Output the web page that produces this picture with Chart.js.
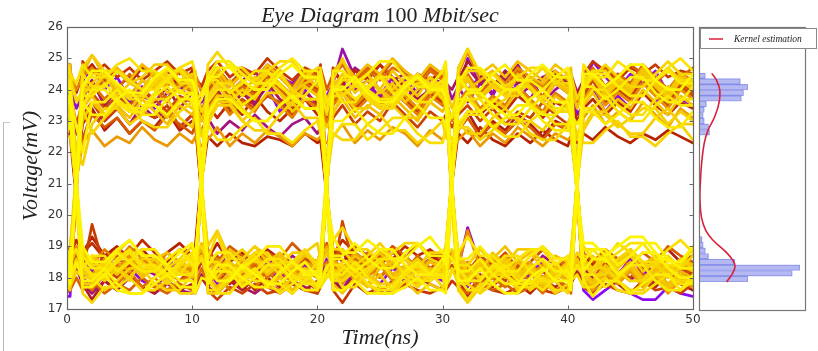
<!DOCTYPE html>
<html><head><meta charset="utf-8">
<script src="https://cdn.jsdelivr.net/npm/chart.js@4.4.0/dist/chart.umd.min.js"></script>
<style>
html,body{margin:0;padding:0;background:#fff;}
#wrap{position:relative;width:818px;height:351px;overflow:hidden;background:#fff;}
#main{position:absolute;left:0;top:0;}
#hist{position:absolute;left:694px;top:0;}
#edge{position:absolute;left:3px;top:122px;width:6px;height:240px;border-left:1px solid #b8b8b8;border-top:1px solid #c8c8c8;}
</style></head><body>
<div id="wrap"><div id="edge"></div><canvas id="main" width="818" height="351"></canvas><canvas id="hist" width="124" height="351"></canvas></div>
<script>
const times = [0,0.25,0.75,1.25,2,3,4,5,6,7,8,9,
10,10.25,10.75,11.25,12,13,14,15,16,17,18,19,
20,20.25,20.75,21.25,22,23,24,25,26,27,28,29,
30,30.25,30.75,31.25,32,33,34,35,36,37,38,39,
40,40.25,40.75,41.25,42,43,44,45,46,47,48,49,50];

const trace01=[17.4,17.4,21.0,
24.1,24.8,24.0,24.4,23.7,24.3,24.1,24.6,23.9,24.2,24.0,23.6,
23.9,24.4,23.5,23.9,23.6,24.1,23.3,23.8,24.0,23.5,23.7,20.8,
18.0,17.6,18.3,18.0,18.5,18.1,17.9,18.3,18.6,18.2,18.0,21.1,
23.8,25.0,24.2,23.9,24.6,24.0,24.4,23.7,24.2,24.5,24.1,20.7,
17.6,17.3,17.6,17.9,17.5,17.3,17.3,17.7,17.5,17.4];
const trace02=[24.8,24.8,20.6,
18.1,17.5,18.2,17.8,18.3,17.9,17.7,18.1,18.4,18.0,17.8,21.2,
24.3,24.6,24.1,24.5,24.2,24.7,24.4,24.2,24.6,24.3,24.1,23.8,
24.2,23.8,24.3,23.7,24.5,24.0,23.6,24.3,24.1,23.8,24.2,20.9,
18.4,17.9,18.6,18.2,17.9,18.4,18.1,18.5,18.2,18.0,18.3,21.0,
24.0,24.9,24.4,24.0,24.5,24.2,24.6,23.9,24.3,24.1];
const trace03=[24.4,24.1,23.4,
23.8,24.3,23.5,24.0,23.6,24.1,23.4,23.9,24.1,23.6,23.8,20.9,
18.3,17.8,18.5,18.1,18.6,18.2,18.0,18.4,18.7,18.3,18.1,18.6,
18.2,18.0,18.5,18.1,17.8,18.3,18.0,18.4,18.1,17.9,18.2,21.3,
24.5,24.0,24.4,23.8,24.6,24.1,23.7,24.4,24.2,23.9,24.3,23.2,
23.5,24.0,23.3,23.8,23.4,23.9,23.6,24.1,23.7,23.5];
const trace04=[18.0,18.3,18.8,
18.5,18.2,18.7,18.3,18.0,18.5,18.2,18.6,18.3,18.1,18.4,21.0,
24.0,24.5,23.9,24.3,24.6,24.0,24.2,23.8,24.4,24.1,24.3,23.5,
23.9,24.3,23.6,24.1,23.8,24.4,23.7,24.0,24.2,23.7,23.9,20.7,
18.2,17.7,18.4,18.0,18.3,17.9,18.1,18.5,18.2,17.9,18.1,18.5,
18.3,18.0,18.4,18.1,18.6,18.2,18.0,18.3,18.5,18.2];
const trace05=[17.9,18.2,21.2,
24.3,24.0,24.5,24.1,24.4,23.9,24.2,24.6,24.0,24.3,24.1,20.8,
18.0,18.4,17.9,18.3,18.1,18.5,18.0,18.2,18.4,18.1,17.9,21.0,
24.2,25.3,24.4,24.0,24.5,24.1,24.3,23.9,24.4,24.2,24.0,20.6,
18.3,19.6,18.4,18.1,18.5,18.2,18.0,18.4,18.2,18.5,18.3,21.1,
24.1,24.5,24.0,24.3,23.8,24.2,24.4,24.0,24.3,24.1];
const trace06=[24.0,23.7,20.9,
18.4,18.1,18.6,18.2,18.7,18.3,18.1,18.5,18.2,18.0,18.3,18.9,
18.6,18.2,18.8,18.4,18.1,18.6,18.3,18.7,18.4,18.2,18.5,21.1,
23.9,24.4,24.0,24.3,23.7,24.2,24.0,24.5,23.8,24.1,24.3,23.7,
24.1,23.6,24.2,23.9,24.4,23.8,24.1,23.6,24.0,24.3,24.0,20.8,
18.2,17.9,18.3,18.0,18.4,18.1,17.8,18.2,18.0,18.3];
const trace07=[23.5,23.8,22.6,
22.4,23.3,23.0,23.4,22.9,23.5,23.1,23.3,22.8,23.2,23.0,22.7,
23.1,22.6,23.0,22.7,23.2,22.8,22.5,22.9,23.1,22.6,22.8,20.9,
18.5,18.0,18.7,18.3,18.9,18.4,18.2,18.6,18.3,18.1,18.4,18.8,
18.5,18.1,18.6,18.3,18.0,18.4,18.2,18.7,18.4,18.1,18.3,18.6,
18.3,18.0,18.5,18.2,17.9,18.3,18.1,18.4,18.2,18.0];
const trace08=[17.6,17.9,18.3,
17.8,17.5,17.9,17.6,18.0,17.7,17.5,17.8,17.6,17.5,17.7,18.1,
17.9,17.6,18.0,17.7,17.5,17.8,17.6,17.9,17.7,17.5,17.8,21.2,
24.6,24.2,24.7,24.4,24.8,24.3,24.5,24.1,24.6,24.4,24.2,24.0,
24.4,24.7,24.2,24.5,24.3,24.8,24.1,24.4,24.6,24.2,24.5,23.9,
24.3,24.6,24.1,24.5,24.2,24.7,24.3,24.0,24.4,24.2];
const trace09=[18.4,18.1,20.8,
23.7,24.3,23.5,24.0,23.3,23.8,23.6,24.1,23.4,23.9,23.7,23.2,
23.6,24.0,23.4,23.9,23.5,24.2,23.7,23.4,23.9,23.6,23.8,23.4,
23.8,24.2,23.6,24.0,23.5,23.9,24.1,23.7,24.0,23.5,23.8,21.0,
18.0,17.4,18.1,17.8,18.3,17.9,17.7,18.2,17.9,17.6,18.0,18.4,
18.1,17.8,18.2,17.9,18.4,18.0,17.8,18.1,17.9,18.2];
const trace10=[24.6,24.3,21.0,
17.8,17.3,17.9,17.6,18.1,17.7,17.5,17.9,17.6,17.8,17.5,18.0,
17.7,17.5,17.9,17.6,18.0,17.7,17.5,17.8,17.6,17.9,17.7,18.2,
17.9,17.6,18.1,17.8,17.5,17.9,17.7,18.0,17.8,17.6,17.9,20.9,
24.3,24.9,24.5,24.1,24.6,24.2,24.4,24.0,24.5,24.3,24.1,23.8,
24.2,24.5,24.0,24.4,24.1,24.6,24.2,23.9,24.3,24.1];
const trace11=[18.6,18.3,21.3,
22.9,23.4,22.7,23.1,22.6,23.0,22.8,23.3,22.7,23.0,22.9,20.6,
18.6,19.1,18.5,18.8,18.4,18.9,18.6,18.3,18.7,18.5,18.8,18.9,
18.4,18.8,18.3,18.7,18.5,19.0,18.6,18.2,18.5,18.8,18.5,21.2,
22.8,23.3,22.6,23.0,22.7,23.2,22.9,22.5,23.0,22.8,23.1,20.7,
18.7,18.4,18.9,18.5,18.8,18.3,18.6,18.9,18.5,18.7];
const trace12=[22.9,22.5,20.5,
18.8,19.3,18.7,19.0,18.6,18.9,18.5,18.8,19.1,18.7,18.9,21.1,
22.5,22.2,22.6,22.3,22.2,22.5,22.4,22.2,22.6,22.3,22.4,20.6,
18.9,18.5,19.0,18.7,18.4,18.8,18.6,19.1,18.7,18.5,18.8,21.0,
22.6,22.3,22.8,22.4,22.2,22.6,22.3,22.7,22.4,22.2,22.5,22.3,
22.6,22.4,22.8,22.5,22.3,22.6,22.4,22.7,22.5,22.3];
const trace13=[24.8,24.5,23.9,
24.5,24.8,24.3,24.6,24.2,24.7,24.4,24.5,24.1,24.6,24.4,20.8,
17.7,18.2,17.8,18.1,17.6,18.0,17.7,18.3,17.9,17.6,17.8,21.3,
24.7,24.2,24.6,24.3,24.8,24.4,24.1,24.5,24.3,24.6,24.4,20.5,
17.9,17.5,18.0,17.7,18.2,17.8,17.5,17.9,17.7,18.0,17.8,18.2,
17.9,17.6,18.0,17.8,17.5,17.9,17.7,18.1,17.8,17.6];
const trace14=[19.0,18.7,19.2,
18.8,19.1,18.6,18.9,18.7,19.2,18.8,18.5,18.9,18.7,19.0,21.4,
23.5,23.1,23.6,23.2,23.8,23.3,23.0,23.4,23.7,23.2,23.5,20.7,
18.7,19.2,18.8,18.5,18.9,18.6,19.0,18.7,18.9,18.6,18.8,21.1,
23.4,23.9,23.2,23.6,23.3,23.8,23.5,23.1,23.6,23.4,23.7,23.0,
23.4,23.7,23.2,23.6,23.3,23.9,23.5,23.2,23.6,23.4];
const trace15=[18.1,17.7,20.7,
24.9,24.5,24.8,24.4,24.7,24.3,24.6,24.9,24.5,24.7,24.4,24.1,
24.6,24.9,24.4,24.7,24.5,25.0,24.6,24.3,24.7,24.5,24.8,21.0,
17.6,17.2,17.8,17.5,17.7,17.5,17.8,17.6,17.5,17.7,17.6,17.9,
17.7,17.5,17.8,17.6,17.5,17.7,17.9,17.6,17.5,17.7,17.6,21.2,
24.5,24.9,24.6,24.3,24.7,24.5,24.8,24.4,24.6,24.5];
const trace16=[23.3,23.7,21.1,
18.2,19.7,18.3,18.0,18.4,18.1,18.5,18.2,17.9,18.3,18.1,18.5,
18.1,18.4,18.0,18.3,17.9,18.2,18.5,18.1,18.3,18.0,18.2,20.8,
23.6,24.1,23.4,23.8,23.5,24.0,23.7,23.3,23.9,23.6,23.8,20.4,
18.3,18.0,18.5,18.2,18.6,18.1,18.4,18.0,18.3,18.5,18.2,18.7,
18.4,18.1,18.5,18.2,18.0,18.4,18.2,18.6,18.3,18.1];
const trace17=[17.5,17.8,21.0,
23.2,23.6,23.0,23.4,22.9,23.3,23.1,23.5,22.8,23.2,23.0,20.9,
17.6,17.3,17.7,17.5,17.8,17.5,17.6,17.9,17.6,17.5,17.7,21.2,
23.1,23.5,22.9,23.3,23.0,23.6,23.2,22.8,23.3,23.0,23.2,22.8,
23.2,23.5,23.0,23.4,22.9,23.3,23.1,23.6,23.2,22.9,23.1,20.6,
17.7,17.5,17.8,17.6,17.5,17.9,17.6,17.7,17.5,17.8];
const trace18=[24.2,24.5,20.8,
18.5,18.0,18.4,18.7,18.2,18.6,18.3,18.0,18.4,18.2,18.5,21.0,
24.0,24.4,23.8,24.2,23.9,24.5,24.1,23.7,24.3,24.0,24.2,20.9,
18.1,19.8,18.2,18.5,18.0,18.4,18.1,18.6,18.3,18.0,18.2,18.4,
18.0,18.3,17.8,18.2,17.9,18.4,18.1,17.8,18.2,18.0,18.3,21.0,
23.8,24.3,23.6,24.0,23.7,24.2,23.9,23.5,24.1,23.8];
const trace19=[24.1,23.9,22.9,
23.6,23.9,23.4,23.8,23.5,24.0,23.7,23.3,23.8,23.6,23.9,23.0,
23.5,23.9,23.3,23.7,23.4,23.8,23.6,23.2,23.7,23.5,23.8,23.1,
23.7,24.0,23.5,23.9,23.6,24.1,23.8,23.4,23.9,23.7,24.0,20.8,
18.6,18.2,18.7,18.4,18.8,18.3,18.5,18.9,18.4,18.6,18.3,21.1,
23.9,24.3,23.7,24.1,23.8,24.4,24.0,23.6,24.2,23.9];
const trace20=[18.5,18.2,18.7,
18.3,18.6,18.1,18.4,18.2,18.7,18.3,18.0,18.5,18.2,18.4,18.8,
18.4,18.7,18.2,18.5,18.3,18.8,18.4,18.1,18.6,18.3,18.5,19.0,
18.5,18.2,18.6,18.3,18.7,18.4,18.1,18.5,18.3,18.6,18.4,21.0,
24.0,24.3,23.8,24.2,23.9,24.4,24.1,23.7,24.2,24.0,24.3,20.9,
18.1,17.8,18.3,18.0,18.4,18.1,17.9,18.2,18.0,18.3];
const trace21=[23.1,22.8,22.0,
22.4,23.2,22.8,23.1,22.6,23.0,22.7,23.2,22.9,22.6,22.9,20.7,
18.9,18.5,19.0,18.7,18.4,18.8,18.6,19.1,18.7,18.5,18.8,19.1,
18.6,18.9,18.4,18.8,18.5,19.0,18.7,18.3,18.8,18.6,18.9,21.3,
22.7,23.1,22.5,22.9,22.6,23.0,22.8,22.4,22.9,22.7,23.0,20.8,
18.8,18.5,18.9,18.6,18.4,18.8,18.5,19.0,18.7,18.5];
const trace22=[17.8,17.6,18.0,
17.6,17.9,17.5,17.8,17.6,18.0,17.7,17.5,17.8,17.6,17.9,21.1,
24.4,24.7,24.2,24.6,24.3,24.8,24.5,24.1,24.6,24.4,24.7,24.0,
24.5,24.8,24.3,24.7,24.4,24.9,24.5,24.2,24.7,24.4,24.6,20.9,
17.7,17.5,17.9,17.6,17.8,17.5,17.7,18.0,17.6,17.8,17.5,21.0,
24.6,24.3,24.7,24.4,24.8,24.5,24.2,24.6,24.4,24.7];
const trace23=[18.3,18.6,21.2,
24.2,23.8,24.4,24.0,24.5,23.9,24.2,23.7,24.3,24.0,24.2,23.3,
23.9,24.3,23.7,24.1,23.8,24.4,24.0,23.6,24.2,23.9,24.1,20.7,
18.4,18.1,18.6,18.3,18.0,18.5,18.2,18.7,18.3,18.1,18.4,20.9,
24.1,24.5,23.9,24.3,24.0,24.6,24.2,23.8,24.4,24.1,24.3,23.6,
24.0,24.4,23.8,24.2,23.9,24.5,24.1,23.7,24.3,24.0];
const trace24=[24.7,24.4,20.6,
17.9,17.6,18.1,17.8,18.2,17.7,18.0,17.6,17.9,18.1,17.8,18.3,
17.8,18.1,17.6,17.9,17.7,18.2,17.8,17.5,18.0,17.7,17.9,21.0,
24.4,24.8,24.2,24.6,24.3,24.7,24.5,24.1,24.6,24.3,24.5,20.8,
17.8,18.1,17.6,18.0,17.7,18.2,17.9,17.5,18.0,17.7,17.9,21.2,
24.3,24.7,24.1,24.5,24.2,24.8,24.4,24.0,24.5,24.3];
const trace25=[18.0,17.7,20.9,
23.9,24.2,23.7,24.1,23.8,24.3,24.0,23.6,24.2,23.9,24.1,21.0,
18.2,17.9,18.4,18.1,18.5,18.0,18.3,17.8,18.2,18.0,18.3,18.5,
18.1,18.4,17.9,18.3,18.0,18.5,18.2,17.8,18.3,18.1,18.3,18.6,
18.2,18.5,18.0,18.4,18.1,18.6,18.3,17.9,18.4,18.2,18.4,21.1,
24.0,24.4,23.8,24.2,23.9,24.5,24.1,23.7,24.3,24.0];
const trace26=[23.6,23.3,20.7,
18.7,18.4,18.9,18.5,19.0,18.6,18.3,18.8,18.5,18.7,18.4,21.2,
23.4,23.8,23.2,23.6,23.3,23.9,23.5,23.1,23.7,23.4,23.6,22.9,
23.5,23.9,23.3,23.7,23.4,24.0,23.6,23.2,23.8,23.5,23.7,23.0,
23.6,24.0,23.4,23.8,23.5,24.1,23.7,23.3,23.9,23.6,23.8,20.8,
18.6,18.3,18.8,18.5,18.9,18.4,18.7,18.2,18.6,18.4];
const trace27=[24.3,24.6,24.0,
24.4,24.7,24.2,24.6,24.3,24.8,24.4,24.1,24.6,24.3,24.5,23.9,
24.3,24.6,24.1,24.5,24.2,24.7,24.4,24.0,24.5,24.3,24.5,20.8,
18.2,17.8,18.3,18.0,18.4,17.9,18.2,17.7,18.1,18.3,18.0,21.0,
24.5,25.2,24.3,24.6,24.2,24.7,24.4,24.1,24.6,24.3,24.5,20.9,
18.0,17.7,18.2,17.9,18.3,17.8,18.1,17.6,18.0,17.8];
const trace28=[18.2,18.5,19.0,
18.4,18.1,18.6,18.3,18.7,18.2,18.5,18.0,18.4,18.2,18.5,18.9,
18.3,18.6,18.1,18.5,18.2,18.7,18.4,18.0,18.5,18.3,18.4,21.1,
23.7,24.1,23.5,23.9,23.6,24.2,23.8,23.4,24.0,23.7,23.9,20.6,
18.4,19.5,18.3,18.6,18.2,18.5,18.1,18.4,18.2,18.5,18.3,21.2,
23.7,24.1,23.5,23.9,23.6,24.2,23.8,23.4,24.0,23.7];
const trace29=[17.7,18.0,21.1,
22.3,22.7,22.2,22.5,22.3,22.8,22.4,22.2,22.6,22.3,22.5,22.2,
22.4,22.8,22.2,22.6,22.3,22.7,22.5,22.2,22.6,22.4,22.5,22.3,
22.5,22.9,22.3,22.7,22.4,22.8,22.6,22.2,22.7,22.4,22.6,22.1,
22.4,22.7,22.2,22.6,22.3,22.8,22.5,22.2,22.6,22.4,22.5,20.9,
17.9,17.6,18.1,17.8,18.2,17.7,18.0,17.5,17.9,17.7];
const trace30=[22.8,23.2,21.0,
18.3,18.6,18.1,18.5,18.2,18.7,18.4,18.0,18.5,18.3,18.6,18.9,
18.5,18.2,18.7,18.4,18.8,18.3,18.6,18.1,18.5,18.3,18.6,19.0,
18.6,18.3,18.8,18.5,18.9,18.4,18.7,18.2,18.6,18.4,18.7,18.8,
18.4,18.1,18.6,18.3,18.7,18.2,18.5,18.0,18.4,18.2,18.5,21.0,
23.1,23.5,22.9,23.3,23.0,23.6,23.2,22.8,23.4,23.1];
const trace31=[18.7,18.4,20.8,
24.5,25.1,24.4,24.7,24.3,24.8,24.5,24.2,24.7,24.4,24.6,20.7,
18.0,17.7,18.2,17.9,18.3,17.8,18.1,17.6,18.0,17.8,18.1,21.1,
24.6,24.9,24.4,24.8,24.5,25.0,24.6,24.3,24.8,24.5,24.7,20.7,
18.1,17.8,18.3,18.0,18.4,17.9,18.2,17.7,18.1,17.9,18.2,18.5,
18.0,17.7,18.2,17.9,18.3,17.8,18.1,17.6,18.0,17.8];
const trace32=[24.0,24.3,21.2,
18.1,18.4,17.9,18.3,18.0,18.5,18.2,17.8,18.3,18.1,18.4,20.9,
24.1,24.5,23.9,24.3,24.0,24.6,24.2,23.8,24.4,24.1,24.3,21.0,
18.3,18.0,18.5,18.2,18.6,18.1,18.4,17.9,18.3,18.1,18.4,20.8,
24.5,24.0,24.3,24.6,24.1,23.9,24.4,24.2,24.6,24.0,24.3,21.1,
18.2,17.9,18.4,18.1,18.5,18.0,18.3,17.8,18.2,18.0];
const trace33=[23.7,23.4,21.9,
23.0,23.6,23.2,23.5,23.1,23.7,23.3,22.9,23.5,23.2,23.4,21.0,
18.1,18.5,18.2,18.6,18.0,18.3,18.7,18.2,17.9,18.4,18.1,20.9,
23.3,23.7,23.1,23.5,23.2,23.8,23.4,23.0,23.6,23.3,23.5,23.1,
23.5,23.9,23.3,23.7,23.4,24.0,23.6,23.2,23.8,23.5,23.7,20.7,
18.5,18.1,18.7,18.3,18.8,18.2,18.6,18.0,18.5,18.3];
const trace34=[18.1,18.4,18.9,
18.2,17.9,18.4,18.1,18.5,18.0,18.3,17.8,18.2,18.0,18.3,21.3,
24.3,24.7,24.1,24.5,24.2,24.8,24.4,24.0,24.6,24.3,24.5,20.7,
18.0,18.4,18.1,17.8,18.3,18.5,18.1,18.4,17.9,18.2,18.0,18.7,
18.1,18.4,17.9,18.3,18.0,18.5,18.2,17.8,18.3,18.1,18.4,20.9,
24.2,24.6,24.0,24.4,24.1,24.7,24.3,23.9,24.5,24.2];
const trace35=[18.6,18.9,21.4,
23.4,23.8,23.2,23.6,23.3,23.9,23.5,23.1,23.7,23.4,23.6,23.0,
23.8,24.2,23.6,24.0,23.7,24.3,23.9,23.5,24.1,23.8,24.0,23.5,
24.3,23.8,24.1,24.5,24.0,23.7,24.2,24.4,23.9,24.2,24.0,20.6,
18.7,18.4,18.9,18.6,19.0,18.5,18.8,18.3,18.7,18.5,18.8,21.0,
23.5,23.9,23.3,23.7,23.4,24.0,23.6,23.2,23.8,23.5];
const trace36=[24.5,24.8,20.9,
18.3,18.7,18.4,18.9,18.5,18.2,18.6,18.8,18.4,18.7,18.5,19.1,
18.7,18.4,18.9,18.6,19.0,18.5,18.8,18.3,18.7,18.5,18.8,18.9,
18.5,18.2,18.7,18.4,18.8,18.3,18.6,18.1,18.5,18.3,18.6,21.1,
24.7,25.3,24.5,24.8,24.4,24.9,24.6,24.3,24.8,24.5,24.7,20.8,
18.6,18.3,18.8,18.5,18.9,18.4,18.7,18.2,18.6,18.4];
const trace37=[17.9,17.6,20.8,
24.3,23.9,24.5,23.8,24.2,24.0,24.6,23.9,24.1,24.4,23.8,20.8,
17.9,17.6,18.1,17.8,18.2,17.7,18.0,17.5,17.9,17.7,18.0,18.3,
17.8,17.5,18.0,17.7,18.1,17.6,17.9,17.5,17.8,17.6,17.9,21.0,
23.9,24.3,23.7,24.1,23.8,24.4,24.0,23.6,24.2,23.9,24.1,23.4,
24.0,24.4,23.8,24.2,23.9,24.5,24.1,23.7,24.3,24.0];
const trace38=[24.2,23.9,20.7,
18.3,18.0,18.5,18.2,18.6,18.1,18.4,17.9,18.3,18.1,18.4,21.1,
24.5,24.0,24.3,23.8,24.4,24.1,24.6,23.9,24.2,24.4,24.0,23.7,
24.1,24.5,23.9,24.3,24.0,24.6,24.2,23.8,24.4,24.1,24.3,20.9,
18.2,17.9,18.4,18.1,18.5,18.0,18.3,17.8,18.2,18.0,18.3,18.6,
18.1,17.8,18.3,18.0,18.4,17.9,18.2,17.7,18.1,17.9];
const trace39=[24.0,24.4,23.7,
23.8,24.2,24.6,24.0,23.7,24.3,24.1,24.5,23.9,24.2,24.0,20.8,
18.3,18.0,18.5,18.2,18.6,18.1,18.4,17.9,18.3,18.1,18.4,18.8,
18.2,17.9,18.4,18.1,18.5,18.0,18.3,17.8,18.2,18.0,18.3,18.7,
18.3,18.0,18.5,18.2,18.6,18.1,18.4,17.9,18.3,18.1,18.4,21.2,
24.1,24.5,23.9,24.3,24.0,24.6,24.2,23.8,24.4,24.1];
const trace40=[18.3,18.0,18.6,
18.1,18.4,17.9,18.3,18.0,18.5,18.2,17.8,18.3,18.1,18.4,20.9,
23.8,24.2,23.6,24.0,23.7,24.3,23.9,23.5,24.1,23.8,24.0,23.2,
24.3,23.8,24.1,24.5,23.9,24.2,23.6,24.0,24.4,23.8,24.1,23.4,
24.0,24.4,23.8,24.2,23.9,24.5,24.1,23.7,24.3,24.0,24.2,21.0,
18.4,18.1,18.6,18.3,18.7,18.2,18.5,18.0,18.4,18.2];
const trace41=[24.2,24.2,20.4,
17.8,17.8,18.3,18.3,17.9,18.6,18.6,18.1,18.4,18.4,18.0,21.3,
23.1,23.6,23.6,23.0,23.4,23.9,23.9,23.3,23.7,23.7,23.2,22.8,
23.2,23.9,23.4,23.4,24.0,23.5,23.1,23.1,23.6,24.1,23.8,20.5,
18.6,18.2,18.2,18.8,18.4,18.9,18.9,18.5,18.1,18.5,18.7,18.3,
18.7,18.7,18.2,18.4,18.9,18.5,18.5,18.1,18.6,18.3];
const trace42=[18.4,18.9,21.5,
24.7,25.1,24.6,24.6,24.2,24.4,24.8,24.8,24.3,24.5,24.5,20.6,
17.5,17.5,17.9,18.2,18.2,17.7,17.6,18.0,18.0,17.6,17.8,18.4,
18.0,18.5,18.5,18.1,17.8,17.8,18.3,18.6,18.2,18.2,17.9,21.4,
23.0,22.6,22.6,23.1,23.4,23.0,23.0,22.7,23.2,23.5,23.1,22.4,
22.8,23.3,23.3,22.9,22.6,22.6,23.1,23.4,22.9,22.9];
const trace43=[23.0,23.5,22.1,
21.6,22.9,23.4,23.4,22.9,23.2,23.7,23.7,23.1,22.8,23.3,20.9,
19.0,19.5,18.6,18.6,19.0,18.7,18.4,18.8,18.8,19.1,18.6,20.7,
24.3,25.0,24.1,24.1,24.5,24.0,24.4,24.4,23.9,24.2,24.6,20.3,
17.6,17.2,17.7,18.1,18.1,17.6,17.9,17.9,17.5,17.8,18.0,21.0,
22.7,23.2,23.2,22.8,23.1,23.4,23.4,22.9,23.3,23.0];
const trace44=[17.7,17.7,18.2,
18.0,18.0,17.6,17.9,18.3,18.3,17.8,17.6,17.6,18.1,18.4,21.0,
22.9,23.5,23.5,23.0,22.7,22.7,23.2,23.6,23.1,23.1,22.8,20.8,
18.9,18.9,18.4,18.7,19.1,18.6,18.6,18.3,18.8,18.8,19.0,21.2,
24.0,24.6,24.6,24.1,23.8,23.8,24.3,24.7,24.2,24.2,23.9,20.5,
17.8,18.3,18.3,17.9,17.6,17.6,18.1,18.4,17.9,17.9];
const trace45=[22.5,22.5,20.9,
18.9,18.4,18.4,18.8,19.2,18.7,18.7,18.3,18.6,19.0,18.5,18.7,
18.2,18.2,18.6,18.9,18.5,18.5,18.1,18.4,18.8,18.3,18.3,21.1,
22.6,22.4,22.4,22.9,23.2,22.7,22.7,22.3,22.6,23.0,22.5,22.2,
22.8,22.8,22.4,22.7,23.1,23.1,22.6,22.4,22.4,22.9,23.2,22.6,
22.3,22.3,22.7,23.0,22.5,22.5,22.2,22.6,22.9,22.4];
const trace46=[18.8,18.3,21.6,
24.0,24.0,24.5,24.1,23.7,23.7,24.2,24.6,24.6,24.0,23.8,22.5,
23.3,23.8,23.8,23.4,23.0,23.0,23.5,23.9,23.4,23.4,23.1,20.6,
19.2,19.6,18.9,18.9,18.5,18.8,19.1,19.1,18.6,18.4,18.8,18.9,
18.4,18.4,18.9,18.5,18.2,18.2,18.7,19.0,18.6,18.6,18.3,18.8,
18.5,18.1,18.1,18.6,18.9,18.4,18.4,18.0,18.3,18.7];
const trace47=[24.6,24.1,20.5,
17.5,17.2,17.7,17.7,18.0,17.6,17.6,17.9,17.5,17.5,17.8,21.2,
24.8,25.2,24.7,24.7,24.3,24.6,24.9,24.9,24.4,24.7,24.7,20.3,
17.9,17.9,18.2,17.8,17.5,17.5,17.9,18.2,18.2,17.7,17.7,18.3,
17.8,17.8,17.5,17.8,18.1,18.1,17.6,17.9,17.9,17.5,17.8,21.1,
24.4,24.4,24.8,24.4,24.1,24.1,24.5,24.9,24.5,24.5];
const trace48=[18.1,18.6,21.0,
23.4,22.6,23.1,23.5,23.5,23.0,22.8,22.8,23.3,23.6,23.2,20.9,
18.6,19.4,18.3,18.3,18.7,18.2,18.5,18.5,18.9,18.4,18.4,21.3,
23.8,23.8,24.2,23.7,23.4,23.4,23.9,24.2,24.2,23.7,23.5,23.1,
23.5,23.9,23.9,23.4,23.7,24.1,24.1,23.6,23.3,23.3,23.8,20.6,
18.3,18.3,18.7,18.2,17.9,17.9,18.4,18.7,18.3,18.3];
const trace49=[24.4,24.4,23.6,
24.0,24.5,24.5,24.1,23.8,23.8,24.3,24.7,24.2,24.2,23.9,23.3,
23.7,24.2,24.2,23.8,24.1,24.5,24.5,24.0,23.7,23.7,24.1,20.8,
18.2,17.7,17.7,18.2,18.5,18.0,18.0,17.7,18.1,18.4,18.0,21.0,
24.6,25.3,24.5,24.5,24.1,24.4,24.7,24.7,24.2,24.5,24.5,23.7,
24.2,24.6,24.6,24.1,23.8,23.8,24.3,24.7,24.3,24.3];
const trace50=[17.9,17.9,18.4,
18.6,18.6,18.2,18.5,18.8,18.8,18.3,18.1,18.1,18.6,18.9,19.0,
18.5,18.5,18.1,18.4,18.8,18.8,18.3,18.0,18.0,18.5,18.8,21.4,
23.9,24.3,24.3,23.8,23.5,23.5,24.0,24.4,24.0,24.0,23.7,20.4,
17.7,17.3,17.8,17.8,18.1,17.7,17.7,18.0,17.6,17.6,17.9,18.1,
17.7,17.7,18.0,17.6,17.5,17.5,17.8,18.1,17.8,17.8];
const trace51=[23.8,23.3,20.6,
18.4,18.0,18.0,18.5,18.8,18.3,18.3,18.0,18.4,18.7,18.2,21.0,
22.9,22.4,22.4,22.8,23.1,22.6,22.6,22.3,22.7,23.0,22.6,22.0,
22.5,22.9,22.9,22.4,22.7,23.1,23.1,22.6,22.3,22.3,22.8,22.4,
22.7,23.2,23.2,22.8,22.5,22.5,23.0,23.3,22.9,22.9,22.6,20.7,
19.0,18.6,18.6,19.1,18.8,18.5,18.5,18.9,19.2,18.8];
const trace52=[18.2,18.2,21.2,
24.5,24.1,24.1,24.6,24.3,24.0,24.0,24.4,24.7,24.2,24.2,20.5,
17.6,17.6,18.0,18.3,17.9,17.9,17.5,17.8,18.2,17.7,17.7,18.1,
17.9,18.3,18.3,17.8,17.6,17.6,18.1,18.4,18.0,18.0,17.7,18.2,
18.4,18.4,18.0,18.3,18.7,18.7,18.2,17.9,17.9,18.4,18.7,20.9,
23.6,24.0,24.0,23.5,23.2,23.2,23.7,24.1,23.7,23.7];
const trace53=[24.9,24.5,24.2,
24.8,24.4,24.4,24.8,25.0,24.6,24.6,24.3,24.7,24.9,24.5,20.8,
18.0,17.5,17.5,18.0,18.3,17.8,17.8,17.5,17.9,18.2,17.7,18.0,
18.4,18.4,18.0,18.3,18.6,18.6,18.1,17.9,17.9,18.4,18.7,21.2,
23.3,23.7,23.7,23.2,22.9,22.9,23.4,23.8,23.4,23.4,23.1,20.6,
18.9,18.9,18.5,18.8,19.1,19.1,18.6,18.4,18.4,18.9];
const trace54=[18.7,18.7,18.9,
18.3,18.7,18.7,18.2,18.5,18.9,18.9,18.4,18.1,18.1,18.6,21.1,
23.6,24.0,24.0,23.5,23.8,24.2,24.2,23.7,23.4,23.4,23.9,23.3,
24.1,24.1,23.7,24.0,24.4,24.4,23.9,23.6,23.6,24.1,24.4,20.8,
18.0,17.6,17.6,18.1,18.4,17.9,17.9,17.6,18.0,18.3,17.8,21.3,
24.8,24.4,24.4,24.9,24.6,24.3,24.3,24.7,25.0,24.6];
const trace55=[23.2,23.2,21.0,
18.5,18.1,18.1,18.6,18.9,18.4,18.4,18.1,18.5,18.8,18.3,18.6,
18.0,18.4,18.4,17.9,18.2,18.6,18.6,18.1,17.8,17.8,18.3,21.0,
24.1,23.6,23.6,24.1,24.4,23.9,23.9,23.6,24.0,24.3,23.8,20.6,
18.8,19.3,18.7,18.7,18.3,18.6,18.9,18.9,18.4,18.7,18.7,21.2,
23.4,23.4,23.8,23.3,23.0,23.0,23.5,23.8,23.5,23.5];
const trace56=[17.6,18.0,21.3,
23.8,23.8,24.2,23.7,23.4,23.4,23.9,24.3,23.9,23.9,23.6,23.9,
24.3,24.3,23.9,24.2,24.6,24.6,24.1,23.8,23.8,24.3,24.6,23.6,
23.9,24.4,24.4,24.0,23.7,23.7,24.2,24.5,24.1,24.1,23.8,20.7,
18.3,17.9,17.9,18.4,18.1,17.8,17.8,18.2,18.5,18.0,18.0,18.4,
18.1,18.1,17.7,18.0,18.4,18.4,17.9,17.6,17.6,18.1];
const trace57=[23.9,24.3,20.9,
18.7,18.3,18.3,18.8,18.5,18.2,18.2,18.6,18.9,18.4,18.4,20.7,
24.4,24.9,24.9,24.5,24.2,24.2,24.7,25.0,24.6,24.6,24.3,20.9,
18.1,18.1,18.5,18.0,17.7,17.7,18.2,18.5,18.1,18.1,17.8,21.1,
22.9,23.3,23.3,22.8,23.1,23.5,23.5,23.0,22.7,22.7,23.2,22.9,
23.3,23.3,22.9,23.2,23.6,23.6,23.1,22.8,22.8,23.3];
const trace58=[18.9,18.5,20.8,
23.5,24.0,24.0,23.6,23.3,23.3,23.8,24.1,23.7,23.7,23.4,21.3,
17.8,18.2,18.2,17.7,18.0,18.4,18.4,17.9,17.6,17.6,18.1,20.6,
24.6,24.6,24.2,24.5,24.9,24.9,24.4,24.1,24.1,24.6,24.9,21.0,
18.6,18.6,19.0,18.5,18.2,18.2,18.7,19.0,18.6,18.6,18.3,20.7,
24.0,24.5,24.5,24.1,23.8,23.8,24.3,24.6,24.2,24.2];
const trace59=[24.3,23.9,22.8,
22.0,23.6,23.6,24.0,23.5,23.2,23.2,23.7,24.0,23.6,23.6,21.0,
18.4,18.8,18.8,18.3,18.6,19.0,19.0,18.5,18.2,18.2,18.7,21.2,
23.0,23.0,23.4,22.9,22.6,22.6,23.1,23.5,23.1,23.1,22.8,23.2,
23.7,23.7,23.3,23.6,24.0,24.0,23.5,23.2,23.2,23.7,24.0,20.5,
17.9,17.4,17.9,17.9,17.5,17.8,18.1,18.1,17.6,17.9];
const trace60=[18.5,18.0,18.5,
17.9,17.9,18.3,17.8,17.5,17.5,18.0,18.3,17.9,17.9,17.6,21.5,
24.2,24.7,24.7,24.3,24.0,24.0,24.5,24.8,24.4,24.4,24.1,20.4,
19.3,18.8,18.8,19.2,18.9,18.6,18.6,19.0,19.3,18.8,18.8,18.6,
18.2,18.2,18.6,18.1,17.8,17.8,18.3,18.6,18.2,18.2,17.9,21.1,
24.1,24.1,23.7,24.0,24.4,24.4,23.9,23.6,23.6,24.1];
const trace61=[22.6,23.0,20.7,
17.7,17.7,18.1,17.6,17.5,17.5,17.8,18.1,17.7,17.7,17.5,18.0,
17.9,18.4,18.4,18.0,17.7,17.7,18.2,18.5,18.1,18.1,17.8,18.3,
18.6,18.6,18.2,18.5,18.9,18.9,18.4,18.1,18.1,18.6,18.9,21.3,
24.4,24.0,24.0,24.5,24.8,24.3,24.3,24.0,24.4,24.7,24.2,20.6,
18.5,18.9,18.9,18.4,18.7,19.1,19.1,18.6,18.3,18.3];
const trace62=[18.0,18.4,20.9,
23.6,23.2,23.2,23.7,24.0,23.5,23.5,23.2,23.6,23.9,23.4,23.7,
24.4,24.4,24.8,24.3,24.0,24.0,24.5,24.8,24.4,24.4,24.1,20.5,
17.6,17.6,17.9,17.5,17.5,17.5,17.7,18.0,17.6,17.6,17.5,20.8,
24.2,24.7,24.7,24.3,24.0,24.0,24.5,24.8,24.4,24.4,24.1,21.0,
18.2,18.6,18.6,18.1,18.4,18.8,18.8,18.3,18.0,18.0];
const trace63=[23.5,23.9,21.1,
19.0,18.5,18.5,18.9,19.2,18.7,18.7,18.4,18.8,19.1,18.6,21.0,
23.2,23.7,23.7,23.3,23.0,23.0,23.5,23.8,23.4,23.4,23.1,20.8,
18.7,18.7,19.1,18.6,18.3,18.3,18.8,19.1,18.7,18.7,18.4,21.1,
23.4,23.9,23.9,23.5,23.2,23.2,23.7,24.0,23.6,23.6,23.3,20.6,
19.1,19.1,18.7,19.0,19.3,19.3,18.8,18.5,18.5,19.0];
const trace64=[18.2,17.8,21.2,
24.1,24.6,24.6,24.2,23.9,23.9,24.4,24.7,24.3,24.3,24.0,20.7,
18.3,17.9,17.9,18.4,18.1,17.8,17.8,18.2,18.5,18.0,18.0,21.2,
24.0,24.0,24.4,23.9,23.6,23.6,24.1,24.4,24.0,24.0,23.7,20.9,
17.9,17.9,18.3,17.8,17.5,17.5,18.0,18.3,17.9,17.9,17.6,21.0,
24.5,24.5,24.1,24.4,24.8,24.8,24.3,24.0,24.0,24.5];

const xTickValues = [0,10,20,30,40,50];
const yTickValues = [17,18,19,20,21,22,23,24,25,26];

const histVoltage = [24.44,24.26,24.08,23.90,23.72,23.54,23.36,23.18,23.00,22.82,22.64,
                     19.22,19.04,18.86,18.68,18.50,18.32,18.14,17.96];
const histCount   = [6,39,46,42,40,7,5,4,5,9,10,
                     3,4,6,9,34,95,88,46];

const kdeVoltage = [24.52,24.3,24.0,23.6,23.15,22.7,22.3,21.7,21.1,20.5,19.9,19.5,19.2,18.8,18.55,18.35,18.1,17.86];
const kdeDensity = [12,16.5,19.5,19,15,8.5,5,2.6,1.4,0.9,2.5,6.5,13,26,32,34,31,26];

const titleParts = [['Eye Diagram ','italic'],['100','normal'],[' Mbit/sec','italic']];
const xTitle = 'Time(ns)';
const yTitle = 'Voltage(mV)';
const legendLabel = 'Kernel estimation';

const traces = [trace01,trace02,trace03,trace04,trace05,trace06,trace07,trace08,trace09,trace10,
  trace11,trace12,trace13,trace14,trace15,trace16,trace17,trace18,trace19,trace20,
  trace21,trace22,trace23,trace24,trace25,trace26,trace27,trace28,trace29,trace30,
  trace31,trace32,trace33,trace34,trace35,trace36,trace37,trace38,trace39,trace40,
  trace41,trace42,trace43,trace44,trace45,trace46,trace47,trace48,trace49,trace50,
  trace51,trace52,trace53,trace54,trace55,trace56,trace57,trace58,trace59,trace60,
  trace61,trace62,trace63,trace64];

// colour ramp (matplotlib "gnuplot"-like: purple -> red -> orange -> yellow)
function gnuplotColor(x){
  const r = Math.round(255*Math.sqrt(x));
  const g = Math.round(255*x*x*x);
  const b = Math.round(255*Math.max(0, Math.sin(2*Math.PI*x)));
  return 'rgb('+r+','+g+','+b+')';
}
function traceColor(i){
  if (i < 14) return gnuplotColor(0.30 + 0.25*i/13);
  if (i < 30) return gnuplotColor(0.60 + 0.26*(i-14)/15);
  return gnuplotColor(0.90 + 0.09*(i-30)/33);
}

const SERIF = '"Liberation Serif","DejaVu Serif",serif';
const SANS = '"DejaVu Sans",sans-serif';

const framePlugin = {
  id:'frame',
  afterDraw(chart){
    const {ctx, chartArea:a, scales} = chart;
    ctx.save();
    ctx.strokeStyle = '#666'; ctx.lineWidth = 1.2;
    const L=Math.round(a.left)+0.5, T=Math.round(a.top)+0.5, R=Math.round(a.right)+0.5, B=Math.round(a.bottom)+0.5;
    ctx.strokeRect(L,T,R-L,B-T);
    ctx.lineWidth = 1;
    ctx.beginPath();
    xTickValues.forEach(v=>{const p=Math.round(scales.x.getPixelForValue(v))+0.5; ctx.moveTo(p,T); ctx.lineTo(p,T+4); ctx.moveTo(p,B); ctx.lineTo(p,B-4);});
    yTickValues.forEach(v=>{const p=Math.round(scales.y.getPixelForValue(v))+0.5; ctx.moveTo(L,p); ctx.lineTo(L+4,p); ctx.moveTo(R,p); ctx.lineTo(R-4,p);});
    ctx.stroke();
    ctx.fillStyle = '#222';
    ctx.textBaseline = 'alphabetic';
    let total = 0;
    titleParts.forEach(([s,st])=>{ctx.font = st+' 22px '+SERIF; total += ctx.measureText(s).width;});
    let x = 380 - total/2;
    titleParts.forEach(([s,st])=>{ctx.font = st+' 22px '+SERIF; ctx.fillText(s,x,22); x += ctx.measureText(s).width;});
    ctx.font = 'italic 22px '+SERIF; ctx.textAlign='center';
    ctx.fillText(xTitle, 380, 344);
    ctx.translate(37,166); ctx.rotate(-Math.PI/2);
    ctx.fillText(yTitle, 0, 0);
    ctx.restore();
  }
};

const datasets = traces.map((arr,i)=>({
  data: times.map((t,j)=>({x:t, y:arr[j]})),
  borderColor: traceColor(i),
  borderWidth: 2.7,
  pointRadius: 0,
  fill: false,
  tension: 0,
  order: traces.length - i
}));

new Chart(document.getElementById('main'), {
  type:'line',
  data:{datasets},
  options:{
    responsive:false, animation:false, devicePixelRatio:1,
    layout:{padding:{left:0,right:125,top:27,bottom:0}},
    plugins:{legend:{display:false},tooltip:{enabled:false},title:{display:false}},
    elements:{point:{radius:0},line:{borderJoinStyle:'round',borderCapStyle:'round'}},
    scales:{
      x:{type:'linear',min:0,max:50,
        afterBuildTicks:s=>{s.ticks = xTickValues.map(v=>({value:v}));},
        afterFit:s=>{s.height = 42;},
        grid:{display:false,drawTicks:false}, border:{display:false},
        ticks:{padding:4,color:'#333',font:{family:SANS,size:12},maxRotation:0,autoSkip:false}},
      y:{type:'linear',min:17,max:26,
        afterBuildTicks:s=>{s.ticks = yTickValues.map(v=>({value:v}));},
        afterFit:s=>{s.width = 67;},
        grid:{display:false,drawTicks:false}, border:{display:false},
        ticks:{padding:4,color:'#333',font:{family:SANS,size:12},autoSkip:false}}
    }
  },
  plugins:[framePlugin]
});

const histFrame = {
  id:'histFrame',
  afterDraw(chart){
    const {ctx, chartArea:a} = chart;
    const ox = 694;
    ctx.save();
    ctx.strokeStyle = '#777'; ctx.lineWidth = 1.2;
    ctx.strokeRect(Math.round(a.left)+0.5, Math.round(a.top)+0.5, Math.round(a.right-a.left), Math.round(a.bottom-a.top)+1);
    ctx.fillStyle = '#fff';
    ctx.fillRect(700-ox, 28, 117, 21);
    ctx.strokeStyle = '#8a8a8a'; ctx.lineWidth = 1;
    ctx.strokeRect(700.5-ox, 28.5, 116, 20);
    ctx.strokeStyle = '#d8203a'; ctx.lineWidth = 1.5;
    ctx.beginPath(); ctx.moveTo(709-ox, 39); ctx.lineTo(723-ox, 39); ctx.stroke();
    ctx.fillStyle = '#222'; ctx.font = 'italic 9.5px '+SERIF; ctx.textBaseline = 'middle';
    ctx.fillText(legendLabel, 734-ox, 39.5);
    ctx.restore();
  }
};

new Chart(document.getElementById('hist'), {
  type:'bar',
  data:{datasets:[
    {type:'bar', indexAxis:'y',
     data: histVoltage.map((v,i)=>({x:histCount[i], y:v})),
     backgroundColor:'rgba(105,115,230,0.5)', borderColor:'rgba(95,105,225,0.55)', borderWidth:0.5,
     barPercentage:1, categoryPercentage:1, order:2},
    {type:'line',
     data: kdeVoltage.map((v,i)=>({x:kdeDensity[i], y:v})),
     borderColor:'#d8203a', borderWidth:1.6, pointRadius:0, tension:0.4, fill:false, order:1}
  ]},
  options:{
    responsive:false, animation:false, devicePixelRatio:1,
    layout:{padding:{left:5,right:13,top:27,bottom:42}},
    plugins:{legend:{display:false},tooltip:{enabled:false}},
    scales:{
      x:{type:'linear',min:0,max:100,display:false,offset:false,grid:{offset:false}},
      y:{type:'linear',min:17,max:26,display:false,offset:false,grid:{offset:false}}
    }
  },
  plugins:[histFrame]
});
</script>
</body></html>
